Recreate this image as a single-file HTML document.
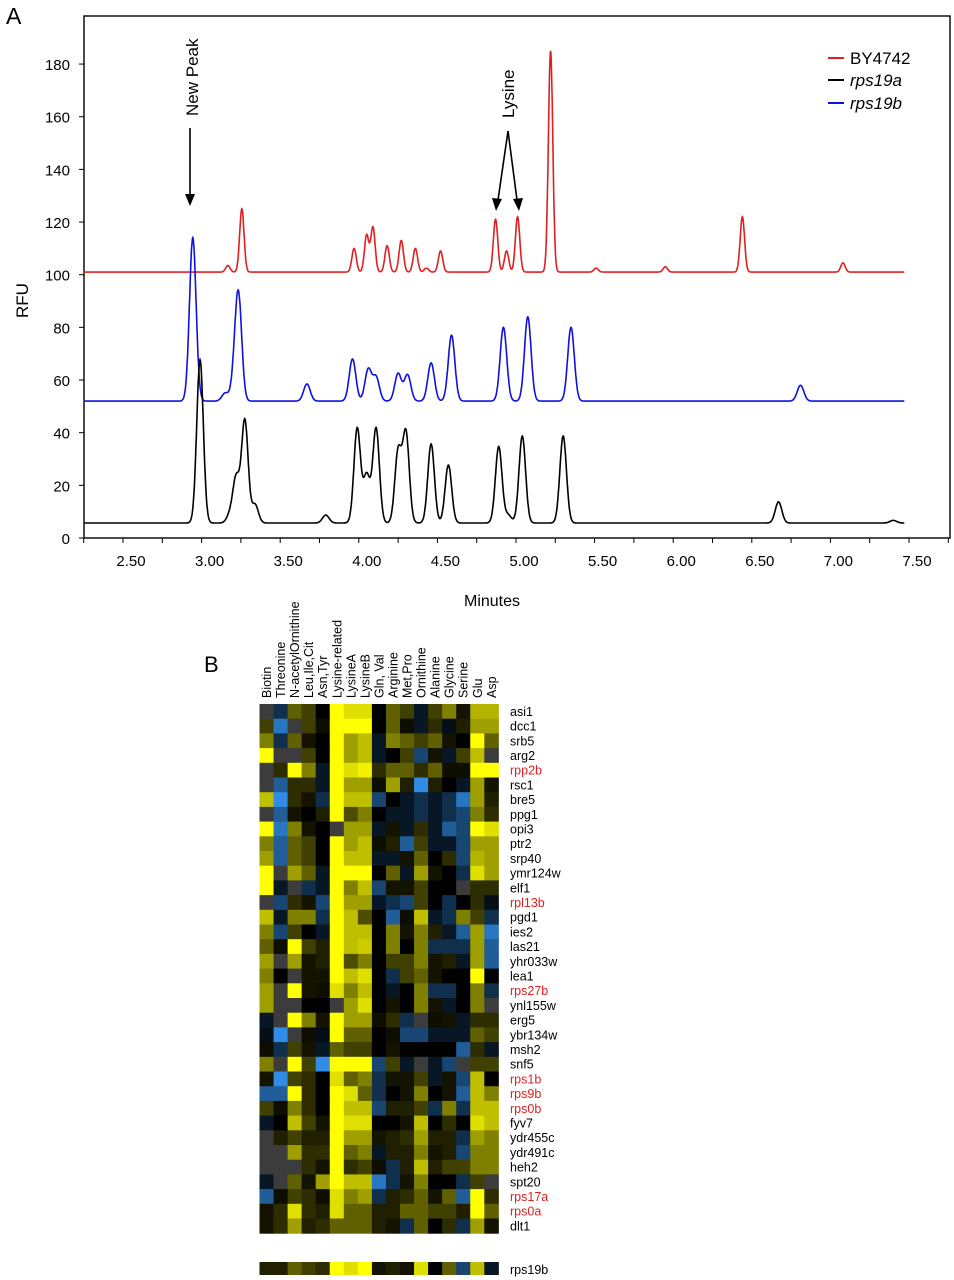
<!DOCTYPE html>
<html><head><meta charset="utf-8"><style>
body{margin:0;background:#fff;width:954px;height:1280px;overflow:hidden;font-family:"Liberation Sans",sans-serif}
svg{position:absolute;left:0;top:0}
</style></head><body>
<svg id="chart" width="954" height="1280">
<text x="6" y="24" font-size="23">A</text>
<text x="204" y="672" font-size="22">B</text>
<g id="axes"></g>
<g id="lines"></g>
<g>
<text transform="translate(198,116) rotate(-90)" font-size="17">New Peak</text>
<line x1="190" y1="128" x2="190" y2="196" stroke="#000" stroke-width="1.6"/>
<polygon points="185,194 195,194 190,206" fill="#000"/>
</g>
<g>
<text transform="translate(514,118) rotate(-90)" font-size="17">Lysine</text>
<line x1="508" y1="131" x2="498" y2="200" stroke="#000" stroke-width="1.6"/>
<line x1="508" y1="131" x2="517" y2="200" stroke="#000" stroke-width="1.6"/>
<polygon points="492,198 502,199 496,211" fill="#000"/>
<polygon points="513,199 523,198 519,211" fill="#000"/>
</g>
<g>
<line x1="828" y1="58" x2="844" y2="58" stroke="#e02020" stroke-width="2"/><text x="850" y="64" font-size="17">BY4742</text>
<line x1="828" y1="80" x2="844" y2="80" stroke="#000" stroke-width="2"/><text x="850" y="86" font-size="17" font-style="italic">rps19a</text>
<line x1="828" y1="103" x2="844" y2="103" stroke="#1010e0" stroke-width="2"/><text x="850" y="109" font-size="17" font-style="italic">rps19b</text>
</g>
<text transform="translate(28,318) rotate(-90)" font-size="17">RFU</text>
<text x="492" y="606" font-size="16" text-anchor="middle">Minutes</text>
<g id="heat"></g>
</svg>
<script>
const yTicks=[0,20,40,60,80,100,120,140,160,180];
const xTicks=[2.5,3.0,3.5,4.0,4.5,5.0,5.5,6.0,6.5,7.0,7.5];
const redBase=101, blueBase=52, blackBase=5.7;
const redPos=[3.167,3.256,3.97,4.05,4.09,4.18,4.27,4.36,4.43,4.52,4.87,4.94,5.01,5.22,5.51,5.95,6.44,7.08];
const redH=[2.5,24,9,14,17,10,12,9,1.5,8,20,8,21,84,1.5,2,21,3.5];
const bluePos=[2.944,3.15,3.21,3.235,3.67,3.96,4.06,4.11,4.25,4.31,4.46,4.59,4.92,5.075,5.35,6.81];
const blueH=[62,3,8,38,6.5,16,12,9,10.5,10,14.5,25,28,32,28,6];
const blackPos=[2.99,3.18,3.22,3.275,3.34,3.79,3.99,4.05,4.11,4.25,4.30,4.46,4.57,4.89,4.95,5.04,5.30,6.67,7.40];
const blackH=[62,3,17,39,7,3,36,18,36,27,34,30,22,29,3,33,33,8,1];
const NS='http://www.w3.org/2000/svg';
const X0=123,PX=157.2,Y0=538,PY=2.633;
const xs=m=>X0+(m-2.5)*PX, ys=v=>Y0-v*PY;
function mk(t,a,p){const e=document.createElementNS(NS,t);for(const k in a)e.setAttribute(k,a[k]);if(p)p.appendChild(e);return e;}
const ax=document.getElementById('axes');
const frame=mk('rect',{x:84,y:16,width:866,height:522,fill:'none',stroke:'#000','stroke-width':1.4},ax);


yTicks.forEach(v=>{mk('line',{x1:79,x2:84,y1:ys(v),y2:ys(v),stroke:'#000'},ax);
 const t=mk('text',{x:70,y:ys(v)+6,'font-size':15,'text-anchor':'end'},ax);t.textContent=v;
 
 });
for(let m=2.25;m<=7.76;m+=0.25){mk('line',{x1:xs(m),x2:xs(m),y1:538,y2:543,stroke:'#000'},ax);}
xTicks.forEach(m=>{const t=mk('text',{x:xs(m)+8,y:566,'font-size':15,'text-anchor':'middle'},ax);t.textContent=m.toFixed(2);
 
 });
function curve(base,pos,h,sig,col,name){
 let d='';for(let m=2.25;m<=7.47;m+=0.002){let v=base;for(let i=0;i<pos.length;i++){const z=(m-pos[i])/sig;if(Math.abs(z)<6)v+=h[i]*Math.exp(-0.5*z*z);}
 d+=(d?'L':'M')+xs(m).toFixed(1)+','+ys(v).toFixed(1);}
 const p=mk('path',{d:d,fill:'none',stroke:col,'stroke-width':1.6},document.getElementById('lines'));
 
 }
curve(redBase,redPos,redH,0.014,'#e02020','line-by4742');
curve(blueBase,bluePos,blueH,0.021,'#1010e0','line-rps19b');
curve(blackBase,blackPos,blackH,0.021,'#000','line-rps19a');

const cols=['Biotin','Threonine','N-acetylOrnithine','Leu,Ile,Cit','Asn,Tyr','Lysine-related','LysineA','LysineB','Gln, Val','Arginine','Met,Pro','Ornithine','Alanine','Glycine','Serine','Glu','Asp'];
const genes=['asi1','dcc1','srb5','arg2','rpp2b','rsc1','bre5','ppg1','opi3','ptr2','srp40','ymr124w','elf1','rpl13b','pgd1','ies2','las21','yhr033w','lea1','rps27b','ynl155w','erg5','ybr134w','msh2','snf5','rps1b','rps9b','rps0b','fyv7','ydr455c','ydr491c','heh2','spt20','rps17a','rps0a','dlt1'];
const redGenes=['rpp2b','rpl13b','rps27b','rps1b','rps9b','rps0b','rps17a','rps0a'];
const G=null;
const vals=[
[G,-1,1.5,1,0,4,3.5,3.5,0,1.5,1,-0.5,1,2,0.3,2.8,2.8],
[1,-2.5,G,1,0.2,4,4,4,0,1.5,0.2,-0.5,0.7,-0.3,0.5,2.5,2.5],
[2,-1,1.5,0.3,0,4,2.5,3,-0.5,2,1.5,1,1.5,0.3,0,4,1.5],
[4,G,G,1,0,4,2.5,3,-0.5,0,1,-1.5,0.3,-0.5,1,3,G],
[G,0.7,4,2,-0.5,4,3.5,3.8,0.7,1.5,1.5,0.7,1.5,0.2,0.2,4,4],
[G,-2,0.7,0.7,-0.5,4,2.5,2.5,0.2,2.5,0.5,-3,0.5,0,-0.5,2.5,0.3],
[3,-3,0.7,0.3,-1,4,3,3,-1.5,0,-0.5,-1,-0.5,-1,-2.5,2.5,0.5],
[G,-2,0.3,0,0.5,4,1.2,2,0,-0.5,-0.5,-1,-0.5,-1,-1.5,2,0.7],
[4,-2.5,2,0.3,0,G,2.5,2.5,-0.5,0.3,-0.5,0.7,-0.5,-2,-1.5,4,3.5],
[2,-2,1.5,1,0,4,2.5,3,0.2,0.5,-2,1,-0.5,-0.5,-1.5,2.5,2.5],
[2.5,-2,1.5,1,0,4,3,3,-0.5,-0.5,0.3,1.5,0,0.7,-1.5,2.8,2.5],
[4,G,2.5,1.5,-0.5,4,4,4,0,1.5,-0.5,2.5,0.3,0,-1,3.5,2.5],
[4,-0.5,G,-1,-0.5,4,2,3,-1.5,0.3,0.3,1,0,0,G,0.7,0.7],
[G,-1.5,0.7,0.3,-1.5,4,2.5,2.5,-0.5,-1,-1.5,1,0,-1,0,0.7,-0.3],
[3,-0.5,2,2,-1,4,3,1.2,0,-2,0.2,3,-0.5,-1,2,1,-1],
[2,-1.5,1,0,-0.5,4,3,3,0,2,0.3,2,0.5,-0.5,-2,2.5,-2.5],
[1.5,0.2,4,1,0.5,4,3,3.2,0,2,0,2,-1,-1,-1,2.5,-2],
[2.5,G,2.5,0.3,0.5,4,1.2,2,0,1,1,2,0.3,0.5,-0.5,2.5,-2],
[2,0,G,0.3,0.3,4,3,3.5,0,-1,1,1.5,0.3,0,0,4,0],
[2.5,G,4,0.3,0.2,3.5,2,3,0,-0.5,0,2,-1,-1,0,2,-1],
[2.5,G,G,0,0,G,2.5,3.5,0,0.3,0,2,0.3,-0.5,0,2,G],
[-0.5,G,4,2,0.3,4,2.5,2.5,0.2,0.7,-1,G,0.2,0.3,-0.5,0.7,0.7],
[-0.3,-3,G,0.2,-0.3,4,1.5,1.5,0,0.2,-1.5,-1.5,-0.5,-0.5,-0.5,1.5,1],
[0.2,-1,1,0.3,-0.5,1.5,1,1,0,0.3,0,0,0,0,-2,0.7,-0.5],
[2,G,4,1,-3,4,4,4,-1.5,1,-0.5,G,-0.5,-1.5,G,1,1],
[0.3,-3,1,0.7,0,3.5,1.5,2,-1,0.3,0.3,1,-0.5,0.3,-1.5,3,0],
[-2,-2,4,0.7,0,4,3.5,1.5,-1,0,0.3,2,0,0.3,-2,3,2],
[1,0.2,2,0.7,0,4,3,3,-1.5,0.5,0.5,1,-1,2,-1,3,3],
[-0.5,0,3,1,0.3,4,3.5,3.5,0,0,0.3,3,0,0.7,0,3.5,3],
[G,0.5,1,0.5,0.5,4,2.5,2.5,0.3,0.5,0.7,2.5,0.5,0.5,-1,2.5,2],
[G,G,2.5,0.7,0.7,4,1.5,2,-0.5,0.5,0.5,2,0.3,0.5,-1.5,2,2],
[G,G,G,0.7,0.3,4,0.7,1,0.2,-1,0.5,3,0.5,1,1,2,2],
[-0.5,G,1.5,0.3,2.5,4,3,3,-2.5,-1,0.3,2,0,0,-1,1,G],
[-2,0.2,1,0.7,0.2,3.5,2,2.5,-1,0.5,0.7,1.5,0.3,1.5,-2,4,0.7],
[0.3,0.7,3.5,0.7,0.5,3.5,1.5,1.5,0.5,0.5,1.5,1.5,1,1,0.5,4,1.5],
[0.3,0.7,2.5,0.5,0.7,1.5,1.5,1.5,0.5,0.3,-1,1.5,0,0.7,-1,2.5,0.3]];
const summary=[0.5,0.5,1.5,1,0.7,4,3.5,4,0.3,0.5,0.3,3.5,0,1.5,-1.5,3,-0.5];
const HX=259.5,CW=14.05,HY=704,RH=14.7;
function color(v){if(v===null)return '#3c3c3c';
 if(v>=0){const t=Math.min(1,v/4);const c=Math.round(255*t);return `rgb(${c},${c},0)`;}
 const t=Math.min(1,-v/3);return `rgb(${Math.round(48*t)},${Math.round(140*t)},${Math.round(230*t)})`;}
const hg=document.getElementById('heat');
cols.forEach((c,j)=>{const t=mk('text',{transform:`translate(${HX+CW*j+CW/2+4.5},698) rotate(-90)`,'font-size':12.5},hg);t.textContent=c;
 
 });
vals.forEach((row,i)=>{row.forEach((v,j)=>{const r=mk('rect',{x:HX+CW*j,y:HY+RH*i,width:CW+0.5,height:RH+0.5,fill:color(v)},hg);
 
 });
 const t=mk('text',{x:510,y:HY+RH*i+RH/2+4.5,'font-size':12.5,fill:redGenes.includes(genes[i])?'#e02020':'#000'},hg);t.textContent=genes[i];
 
 });
summary.forEach((v,j)=>{const r=mk('rect',{x:HX+CW*j,y:1262,width:CW+0.5,height:13,fill:color(v)},hg);
 
 });
const sl=mk('text',{x:510,y:1274,'font-size':12.5},hg);sl.textContent='rps19b';


</script>
</body></html>
